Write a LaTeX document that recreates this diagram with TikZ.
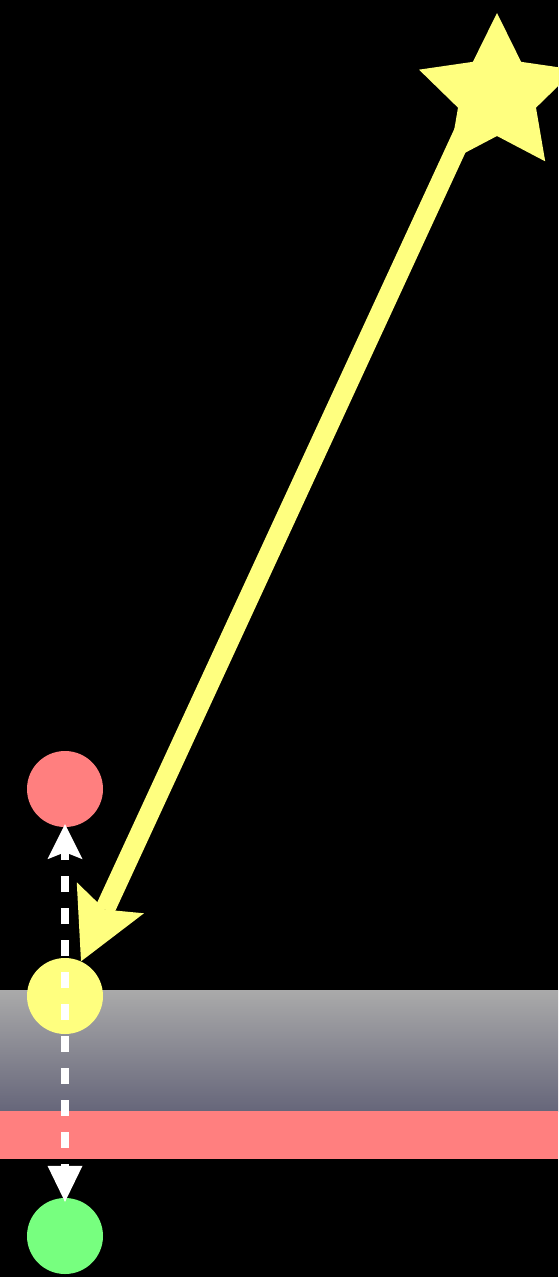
\documentclass[tikz,border=0pt]{standalone}
\usetikzlibrary{arrows.meta,shapes.geometric}
\definecolor{yel}{HTML}{FFFF7F}
\definecolor{redc}{HTML}{FF7F7F}
\definecolor{grn}{HTML}{77FF7F}
\definecolor{graytop}{HTML}{AAAAAA}
\definecolor{graybot}{HTML}{66667A}
\tikzset{
  dot/.style={circle, minimum size=76pt, inner sep=0pt, fill=#1},
  yelarrow/.style={draw=yel, line width=20pt,
    -{Stealth[length=70pt, width=74pt, inset=13pt, line width=0pt, fill=yel]}},
  dashline/.style={draw=white, line width=8pt, dash pattern=on 16pt off 16pt, dash phase=24pt}
}
\begin{document}
\begin{tikzpicture}[x=1pt,y=-1pt]
\fill[black] (0,0) rectangle (558,1277);
\useasboundingbox (0,0) rectangle (558,1277);
% bands
\shade[top color=graytop, bottom color=graybot] (0,990) rectangle (558,1111);
\fill[redc] (0,1111) rectangle (558,1159);
% nodes
\node[star, star points=5, star point ratio=2, minimum size=164pt, inner sep=0pt, fill=yel] (star) at (497,95) {};
\coordinate (src) at (481,95);
\node[dot=redc] (r) at (65,789) {};
\node[dot=yel] (y) at (65,996) {};
\node[dot=grn] (g) at (65,1236) {};
% connectors
\draw[yelarrow] (src) -- (y);
\draw[dashline, shorten >=-3pt, -{Stealth[length=35pt, width=35pt, inset=7pt, line width=0pt, fill=white]}] (y.center) -- (r);
\draw[dashline, shorten >=-4pt, -{Triangle[length=36pt, width=35pt, line width=0pt, fill=white]}] (y.center) -- (g);
\end{tikzpicture}
\end{document}
